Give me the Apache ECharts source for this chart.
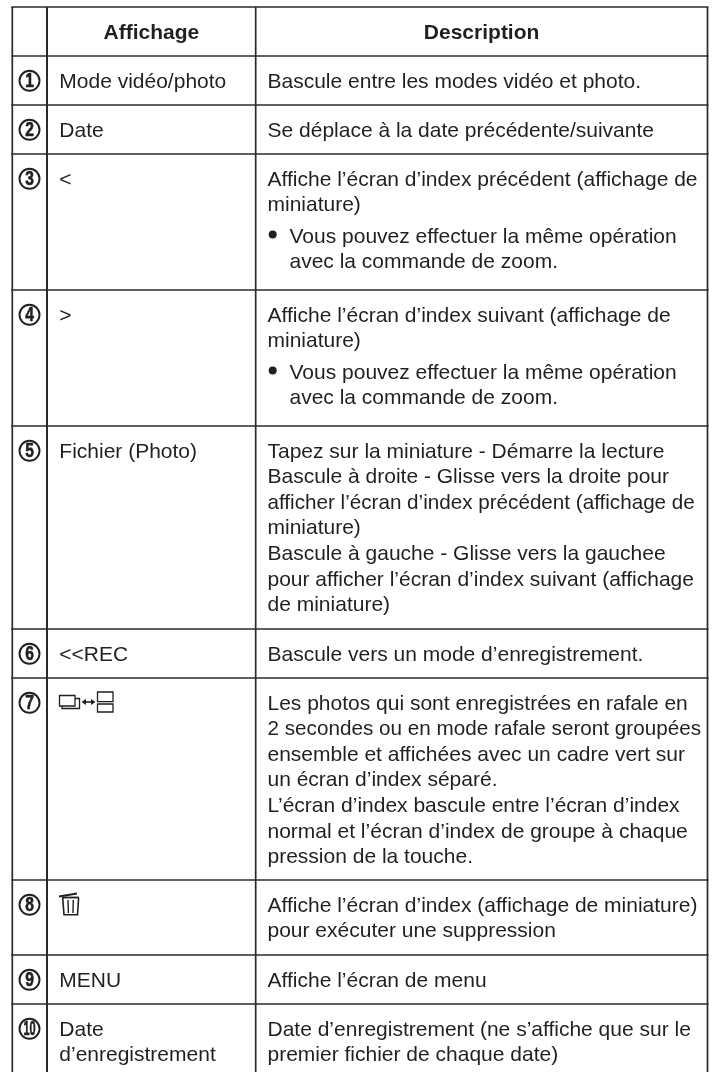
<!DOCTYPE html>
<html><head><meta charset="utf-8"><style>html,body{margin:0;padding:0;background:#fff}#c{width:716px;height:1072px}</style>
<script src="https://cdn.jsdelivr.net/npm/echarts@6/dist/echarts.min.js"></script></head><body><div id="c"></div>
<script>
var headers = ['Affichage','Description'];
var rowNumbers = ['1','2','3','4','5','6','7','8','9','10'];
var displayLines = [['Mode vidéo/photo'],['Date'],['<'],['>'],['Fichier (Photo)'],['<<REC'],[],[],['MENU'],['Date','d’enregistrement']];
var descriptionLines = [
 ['Bascule entre les modes vidéo et photo.'],
 ['Se déplace à la date précédente/suivante'],
 ['Affiche l’écran d’index précédent (affichage de','miniature)'],
 ['Affiche l’écran d’index suivant (affichage de','miniature)'],
 ['Tapez sur la miniature - Démarre la lecture','Bascule à droite - Glisse vers la droite pour','afficher l’écran d’index précédent (affichage de','miniature)','Bascule à gauche - Glisse vers la gauchee','pour afficher l’écran d’index suivant (affichage','de miniature)'],
 ['Bascule vers un mode d’enregistrement.'],
 ['Les photos qui sont enregistrées en rafale en','2 secondes ou en mode rafale seront groupées','ensemble et affichées avec un cadre vert sur','un écran d’index séparé.','L’écran d’index bascule entre l’écran d’index','normal et l’écran d’index de groupe à chaque','pression de la touche.'],
 ['Affiche l’écran d’index (affichage de miniature)','pour exécuter une suppression'],
 ['Affiche l’écran de menu'],
 ['Date d’enregistrement (ne s’affiche que sur le','premier fichier de chaque date)']
];
var bulletLines = [null,null,['Vous pouvez effectuer la même opération','avec la commande de zoom.'],['Vous pouvez effectuer la même opération','avec la commande de zoom.'],null,null,null,null,null,null];
var rowEdges = [7,56,105,154,290,426,629,678,880,955,1004,1072];
var colEdges = [12.3,47,255.7,707.5];
var ink = '#231f20';
var font = '"Liberation Sans"';
var LH = 25.6, FS = 21;
var tightLines = {'afficher l’écran d’index précédent (affichage de':0.983,'2 secondes ou en mode rafale seront groupées':0.985};

var chart = echarts.init(document.getElementById('c'), null, {renderer:'canvas'});
function line(api, x1,y1,x2,y2,w){
  var a=api.coord([x1,y1]), b=api.coord([x2,y2]);
  return {type:'line',shape:{x1:a[0],y1:a[1],x2:b[0],y2:b[1]},style:{stroke:'#2a2a2a',lineWidth:w}};
}
function txt(api,x,y,s,o){
  var p=api.coord([x,y - FS*0.3]);
  return {type:'text',x:p[0],y:p[1],scaleX:tightLines[s]||1,style:Object.assign({text:s,font:FS+'px '+font,fill:ink,align:'left',verticalAlign:'middle'},o||{})};
}
function renderCell(params, api){
  var i = api.value(0), kids=[];
  if(i===-1){
    kids.push(txt(api,(colEdges[1]+colEdges[2])/2,40,headers[0],{align:'center',font:'bold '+FS+'px '+font}));
    kids.push(txt(api,(colEdges[2]+colEdges[3])/2,40,headers[1],{align:'center',font:'bold '+FS+'px '+font}));
    return {type:'group',children:kids};
  }
  if(i===-2){
    rowEdges.slice(0,-1).forEach(function(y){kids.push(line(api,colEdges[0]-1,y,colEdges[3]+1,y,1.7));});
    colEdges.forEach(function(x,k){kids.push(line(api,x,rowEdges[0],x,rowEdges[rowEdges.length-1],k==1?2:1.7));});
    return {type:'group',children:kids};
  }
  var top=rowEdges[i+1], t0=top+32.2;
  var c=api.coord([29.5,top+24.8]);
  kids.push({type:'circle',shape:{cx:c[0],cy:c[1],r:10},style:{fill:'#fff',stroke:ink,lineWidth:1.9}});
  kids.push({type:'text',x:c[0],y:c[1]+0.5,scaleX:rowNumbers[i].length>1?.55:.78,style:{text:rowNumbers[i],font:'bold 20px '+font,fill:ink,stroke:ink,lineWidth:.6,align:'center',verticalAlign:'middle'}});
  displayLines[i].forEach(function(s,k){kids.push(txt(api,59.3,t0+k*LH,s));});
  var y=t0;
  descriptionLines[i].forEach(function(s){kids.push(txt(api,267.5,y,s));y+=LH;});
  if(bulletLines[i]){
    y+=6;
    var bc=api.coord([272.7,y-9]);
    kids.push({type:'circle',shape:{cx:bc[0],cy:bc[1],r:4},style:{fill:ink}});
    bulletLines[i].forEach(function(s){kids.push(txt(api,289.5,y,s));y+=LH;});
  }
  if(i===6){
    var o=api.coord([59,695]);
    kids.push({type:'group',x:o[0],y:o[1],children:[
      {type:'rect',shape:{x:0.5,y:0.5,width:15.5,height:10.5},style:{fill:'none',stroke:ink,lineWidth:1.3}},
      {type:'polyline',shape:{points:[[3,11],[3,13.5],[20.5,13.5],[20.5,3.5],[16,3.5]]},style:{fill:'none',stroke:ink,lineWidth:1.3}},
      {type:'line',shape:{x1:24,y1:7,x2:35,y2:7},style:{stroke:ink,lineWidth:1.6}},
      {type:'polygon',shape:{points:[[22.5,7],[27,4],[27,10]]},style:{fill:ink}},
      {type:'polygon',shape:{points:[[36.5,7],[32,4],[32,10]]},style:{fill:ink}},
      {type:'rect',shape:{x:38.5,y:-3,width:15.5,height:9.7},style:{fill:'none',stroke:ink,lineWidth:1.3}},
      {type:'rect',shape:{x:38.5,y:9,width:15.5,height:8},style:{fill:'none',stroke:ink,lineWidth:1.3}}
    ]});
  }
  if(i===7){
    var o2=api.coord([59,892]);
    kids.push({type:'group',x:o2[0],y:o2[1],children:[
      {type:'line',shape:{x1:0,y1:4.5,x2:18,y2:1.5},style:{stroke:ink,lineWidth:1.8}},
      {type:'line',shape:{x1:3,y1:5.5,x2:20,y2:5.5},style:{stroke:ink,lineWidth:1.8}},
      {type:'polyline',shape:{points:[[3.7,6],[5,22.7],[18.5,22.7],[19.6,6]]},style:{fill:'none',stroke:ink,lineWidth:1.6}},
      {type:'line',shape:{x1:9,y1:8,x2:9.4,y2:21},style:{stroke:ink,lineWidth:1.4}},
      {type:'line',shape:{x1:14.3,y1:8,x2:14,y2:21},style:{stroke:ink,lineWidth:1.4}}
    ]});
  }
  return {type:'group',children:kids};
}
var rowIds=[-2,-1].concat(rowNumbers.map(function(_,i){return i;}));
chart.setOption({
  animation:false,
  grid:{left:0,right:0,top:0,bottom:0,containLabel:false},
  xAxis:{type:'value',min:0,max:716,show:false},
  yAxis:{type:'value',min:0,max:1072,inverse:true,show:false},
  series:[{type:'custom',coordinateSystem:'cartesian2d',clip:false,silent:true,data:rowIds.map(function(v){return [v];}),encode:{x:0},renderItem:renderCell}]
});
</script></body></html>
